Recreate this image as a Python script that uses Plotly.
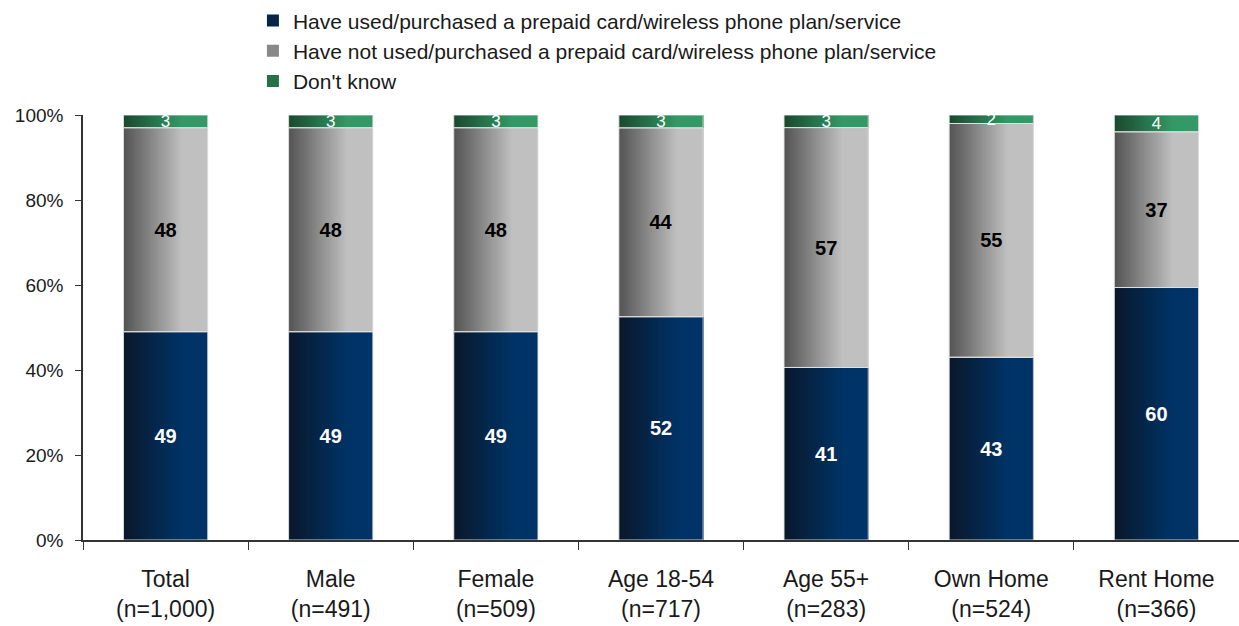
import plotly.graph_objects as go

categories = ["Total<br>(n=1,000)", "Male<br>(n=491)", "Female<br>(n=509)", "Age 18-54<br>(n=717)",
              "Age 55+<br>(n=283)", "Own Home<br>(n=524)", "Rent Home<br>(n=366)"]
used = [49, 49, 49, 52, 41, 43, 60]
not_used = [48, 48, 48, 44, 57, 55, 37]
dont_know = [3, 3, 3, 3, 3, 2, 4]
series_names = ["Have used/purchased a prepaid card/wireless phone plan/service",
                "Have not used/purchased a prepaid card/wireless phone plan/service",
                "Don't know"]
y_ticks = [0, 20, 40, 60, 80, 100]
y_tick_labels = ["0%", "20%", "40%", "60%", "80%", "100%"]

# gradient colours (left -> right) per series
grad = [((10, 24, 44), (0, 51, 102)),
        ((85, 85, 85), (192, 192, 192)),
        ((26, 74, 48), (51, 153, 102))]
text_styles = [dict(color="white", size=20, family="Liberation Sans, Arial", weight="bold"),
               dict(color="black", size=20, family="Liberation Sans, Arial", weight="bold"),
               dict(color="white", size=17, family="Liberation Sans, Arial")]

series = [used, not_used, dont_know]
totals = [sum(v) for v in zip(*series)]
pcts = [[v / t * 100 for v, t in zip(s, totals)] for s in series]
bases = []
cum = [0] * len(categories)
for p in pcts:
    bases.append(cum[:])
    cum = [c + v for c, v in zip(cum, p)]

W = 0.51
N = 40
fig = go.Figure()
for si, p in enumerate(pcts):
    c0, c1 = grad[si]
    for i in range(N):
        f = min(1.0, (i / (N - 1)) / 0.7)
        col = "rgb({},{},{})".format(*[round(a + (b - a) * f) for a, b in zip(c0, c1)])
        fig.add_trace(go.Bar(
            x=categories, y=p, base=bases[si],
            width=W - i * W / N, offset=-W / 2 + i * W / N,
            marker=dict(color=col, line=dict(width=0)),
            name=series_names[si],
            showlegend=(i == N // 3), hoverinfo="skip"))

for si, p in enumerate(pcts):
    fig.add_trace(go.Bar(
        x=categories, y=p, base=bases[si], width=W, offset=-W / 2,
        marker=dict(color="rgba(0,0,0,0)", line=dict(width=1, color="rgba(225,225,225,0.9)")),
        text=[str(v) for v in series[si]], textposition="inside", insidetextanchor="middle",
        textangle=0, constraintext="none", textfont=text_styles[si],
        showlegend=False, cliponaxis=True, hovertemplate="%{text}<extra></extra>"))

fig.update_layout(
    width=1239, height=626, barmode="overlay",
    paper_bgcolor="white", plot_bgcolor="white",
    margin=dict(l=83, r=0, t=115, b=86),
    font=dict(family="Liberation Sans, Arial", size=20, color="#1a1a1a"),
    legend=dict(orientation="v", x=0.147, xanchor="left", y=1.27, yanchor="top",
                font=dict(size=21, family="Liberation Sans, Arial", color="#1a1a1a"),
                itemsizing="constant", tracegroupgap=0, bgcolor="rgba(0,0,0,0)"),
    xaxis=dict(showline=True, linecolor="#333", linewidth=1.5, ticks="outside",
               tickson="boundaries", ticklen=8, tickcolor="#333", showgrid=False,
               ticklabelstandoff=18,
               tickfont=dict(size=23, color="#1a1a1a")),
    yaxis=dict(range=[0, 100], tickvals=y_ticks, ticktext=y_tick_labels, showline=True,
               linecolor="#333", linewidth=1.5, ticks="outside", ticklen=6, tickcolor="#333",
               ticklabelstandoff=8,
               showgrid=False, zeroline=False, tickfont=dict(size=19, color="#1a1a1a")),
)
fig.write_html("out.html")
